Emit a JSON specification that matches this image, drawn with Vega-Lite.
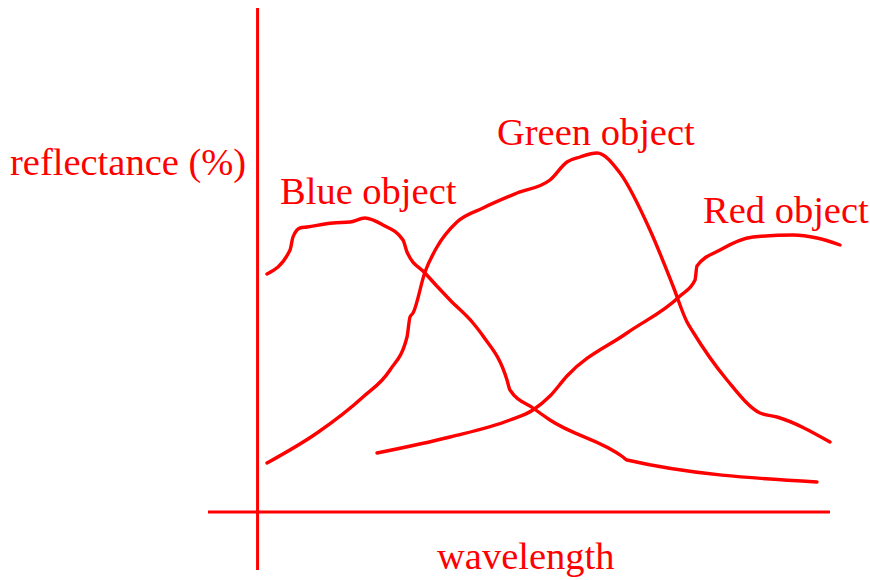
{
  "$schema": "https://vega.github.io/schema/vega-lite/v6.json",
  "width": 870,
  "height": 580,
  "autosize": {"type": "none"},
  "padding": 0,
  "background": "white",
  "config": {"view": {"stroke": null}},
  "datasets": {
    "curves": [
      {"series": "Blue object", "i": 1, "wavelength": 1.65, "reflectance": 47.6},
      {"series": "Blue object", "i": 2, "wavelength": 5.67, "reflectance": 52.4},
      {"series": "Blue object", "i": 3, "wavelength": 6.19, "reflectance": 55.0},
      {"series": "Blue object", "i": 4, "wavelength": 7.41, "reflectance": 56.8},
      {"series": "Blue object", "i": 5, "wavelength": 8.64, "reflectance": 57.0},
      {"series": "Blue object", "i": 6, "wavelength": 13.18, "reflectance": 57.8},
      {"series": "Blue object", "i": 7, "wavelength": 16.15, "reflectance": 58.0},
      {"series": "Blue object", "i": 8, "wavelength": 18.77, "reflectance": 58.8},
      {"series": "Blue object", "i": 9, "wavelength": 21.92, "reflectance": 57.4},
      {"series": "Blue object", "i": 10, "wavelength": 25.41, "reflectance": 54.4},
      {"series": "Blue object", "i": 11, "wavelength": 26.11, "reflectance": 52.0},
      {"series": "Blue object", "i": 12, "wavelength": 29.25, "reflectance": 47.8},
      {"series": "Blue object", "i": 13, "wavelength": 33.62, "reflectance": 42.4},
      {"series": "Blue object", "i": 14, "wavelength": 37.64, "reflectance": 37.8},
      {"series": "Blue object", "i": 15, "wavelength": 39.39, "reflectance": 35.2},
      {"series": "Blue object", "i": 16, "wavelength": 43.58, "reflectance": 26.4},
      {"series": "Blue object", "i": 17, "wavelength": 44.10, "reflectance": 24.4},
      {"series": "Blue object", "i": 18, "wavelength": 48.12, "reflectance": 20.8},
      {"series": "Blue object", "i": 19, "wavelength": 51.09, "reflectance": 18.4},
      {"series": "Blue object", "i": 20, "wavelength": 63.85, "reflectance": 11.0},
      {"series": "Blue object", "i": 21, "wavelength": 64.54, "reflectance": 10.4},
      {"series": "Blue object", "i": 22, "wavelength": 97.74, "reflectance": 6.0},
      {"series": "Green object", "i": 1, "wavelength": 1.65, "reflectance": 9.8},
      {"series": "Green object", "i": 2, "wavelength": 10.38, "reflectance": 15.8},
      {"series": "Green object", "i": 3, "wavelength": 18.42, "reflectance": 23.0},
      {"series": "Green object", "i": 4, "wavelength": 23.14, "reflectance": 28.4},
      {"series": "Green object", "i": 5, "wavelength": 26.11, "reflectance": 35.0},
      {"series": "Green object", "i": 6, "wavelength": 26.63, "reflectance": 39.0},
      {"series": "Green object", "i": 7, "wavelength": 27.16, "reflectance": 39.8},
      {"series": "Green object", "i": 8, "wavelength": 29.25, "reflectance": 48.0},
      {"series": "Green object", "i": 9, "wavelength": 31.35, "reflectance": 53.0},
      {"series": "Green object", "i": 10, "wavelength": 34.84, "reflectance": 58.0},
      {"series": "Green object", "i": 11, "wavelength": 39.39, "reflectance": 60.8},
      {"series": "Green object", "i": 12, "wavelength": 45.33, "reflectance": 63.8},
      {"series": "Green object", "i": 13, "wavelength": 51.09, "reflectance": 66.4},
      {"series": "Green object", "i": 14, "wavelength": 54.06, "reflectance": 70.0},
      {"series": "Green object", "i": 15, "wavelength": 56.33, "reflectance": 71.0},
      {"series": "Green object", "i": 16, "wavelength": 59.30, "reflectance": 71.8},
      {"series": "Green object", "i": 17, "wavelength": 63.32, "reflectance": 67.8},
      {"series": "Green object", "i": 18, "wavelength": 68.56, "reflectance": 56.4},
      {"series": "Green object", "i": 19, "wavelength": 72.58, "reflectance": 45.2},
      {"series": "Green object", "i": 20, "wavelength": 75.03, "reflectance": 38.0},
      {"series": "Green object", "i": 21, "wavelength": 76.08, "reflectance": 36.0},
      {"series": "Green object", "i": 22, "wavelength": 82.02, "reflectance": 26.4},
      {"series": "Green object", "i": 23, "wavelength": 87.78, "reflectance": 19.8},
      {"series": "Green object", "i": 24, "wavelength": 90.75, "reflectance": 19.0},
      {"series": "Green object", "i": 25, "wavelength": 100.01, "reflectance": 14.0},
      {"series": "Red object", "i": 1, "wavelength": 20.87, "reflectance": 11.8},
      {"series": "Red object", "i": 2, "wavelength": 33.62, "reflectance": 15.0},
      {"series": "Red object", "i": 3, "wavelength": 44.10, "reflectance": 18.4},
      {"series": "Red object", "i": 4, "wavelength": 48.12, "reflectance": 20.4},
      {"series": "Red object", "i": 5, "wavelength": 51.09, "reflectance": 23.2},
      {"series": "Red object", "i": 6, "wavelength": 54.06, "reflectance": 27.2},
      {"series": "Red object", "i": 7, "wavelength": 64.54, "reflectance": 35.8},
      {"series": "Red object", "i": 8, "wavelength": 73.80, "reflectance": 43.2},
      {"series": "Red object", "i": 9, "wavelength": 76.43, "reflectance": 46.4},
      {"series": "Red object", "i": 10, "wavelength": 76.77, "reflectance": 49.2},
      {"series": "Red object", "i": 11, "wavelength": 80.79, "reflectance": 52.4},
      {"series": "Red object", "i": 12, "wavelength": 86.56, "reflectance": 55.0},
      {"series": "Red object", "i": 13, "wavelength": 93.55, "reflectance": 55.4},
      {"series": "Red object", "i": 14, "wavelength": 97.74, "reflectance": 54.8},
      {"series": "Red object", "i": 15, "wavelength": 101.76, "reflectance": 53.4}
    ],
    "axes": [
      {"name": "reflectance axis", "x": 0, "x2": 0, "y": -11.6, "y2": 100.8},
      {"name": "wavelength axis", "x": -8.66, "x2": 100.01, "y": 0, "y2": 0}
    ],
    "labels": [
      {"text": "reflectance (%)", "x": -43.25, "y": 67.4},
      {"text": "Blue object", "x": 3.92, "y": 61.6},
      {"text": "Green object", "x": 41.83, "y": 73.4},
      {"text": "Red object", "x": 77.82, "y": 57.8},
      {"text": "wavelength", "x": 31.35, "y": -11.4}
    ]
  },
  "layer": [
    {
      "data": {"name": "axes"},
      "mark": {"type": "rule", "color": "#ff0000", "strokeWidth": 3},
      "encoding": {
        "x": {"field": "x", "type": "quantitative", "scale": {"domain": [-45, 107], "nice": false, "zero": false}, "axis": null},
        "x2": {"field": "x2"},
        "y": {"field": "y", "type": "quantitative", "scale": {"domain": [-13.6, 102.4], "nice": false, "zero": false}, "axis": null},
        "y2": {"field": "y2"}
      }
    },
    {
      "data": {"name": "curves"},
      "mark": {"type": "line", "color": "#ff0000", "strokeWidth": 3.4, "strokeJoin": "round", "strokeCap": "round", "interpolate": "monotone"},
      "encoding": {
        "x": {"field": "wavelength", "type": "quantitative", "scale": {"domain": [-45, 107], "nice": false, "zero": false}, "axis": null},
        "y": {"field": "reflectance", "type": "quantitative", "scale": {"domain": [-13.6, 102.4], "nice": false, "zero": false}, "axis": null},
        "detail": {"field": "series", "type": "nominal"},
        "order": {"field": "i", "type": "quantitative"}
      }
    },
    {
      "data": {"name": "labels"},
      "mark": {"type": "text", "color": "#ff0000", "font": "Liberation Serif", "fontSize": 38.5, "align": "left", "baseline": "alphabetic"},
      "encoding": {
        "x": {"field": "x", "type": "quantitative", "scale": {"domain": [-45, 107], "nice": false, "zero": false}, "axis": null},
        "y": {"field": "y", "type": "quantitative", "scale": {"domain": [-13.6, 102.4], "nice": false, "zero": false}, "axis": null},
        "text": {"field": "text", "type": "nominal"}
      }
    }
  ]
}
